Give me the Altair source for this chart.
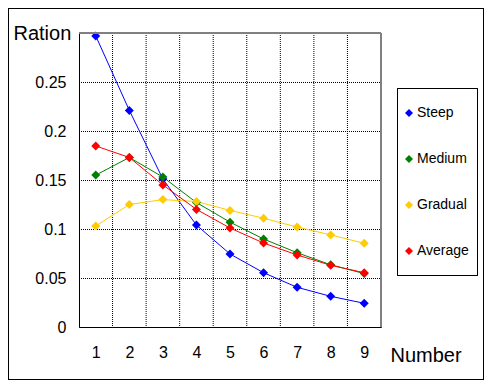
import altair as alt
import pandas as pd

numbers = [1, 2, 3, 4, 5, 6, 7, 8, 9]
series_names = ["Steep", "Medium", "Gradual", "Average"]
series_colors = ["#0000FF", "#008000", "#FFCC00", "#FF0000"]
steep = [0.297, 0.221, 0.151, 0.104, 0.0745, 0.0554, 0.0405, 0.0313, 0.0242]
medium = [0.155, 0.173, 0.153, 0.127, 0.107, 0.0898, 0.0758, 0.0635, 0.0545]
gradual = [0.103, 0.125, 0.130, 0.128, 0.119, 0.111, 0.102, 0.094, 0.0854]
average = [0.1847, 0.173, 0.145, 0.120, 0.101, 0.0857, 0.0735, 0.063, 0.0554]
y_ticks = [0, 0.05, 0.1, 0.15, 0.2, 0.25, 0.3]

rows = []
for name, vals in zip(series_names, [steep, medium, gradual, average]):
    for n, v in zip(numbers, vals):
        rows.append({"Number": n, "Ration": v, "Series": name})
df = pd.DataFrame(rows)

grid_df = pd.DataFrame({"g": [n + 0.5 for n in numbers[:-1]]})

W, H = 302, 294
PL, PT = 71, 25
TOTAL_W, TOTAL_H = 476, 372

xscale = alt.Scale(domain=[0.5, 9.5], nice=False, zero=False)
yscale = alt.Scale(domain=[0, 0.3], nice=False)
color_scale = alt.Scale(domain=series_names, range=series_colors)

FONT = "Liberation Sans"

x_axis = alt.Axis(
    values=numbers, grid=False, ticks=False, domainColor="black",
    labelFontSize=16, labelPadding=17, labelColor="black", labelFont=FONT,
    labelOverlap=False, labelFlush=False,
    title="Number", titleFontSize=20, titleFontWeight="normal",
    titleColor="black", titleFont=FONT, titleAlign="left",
    titleBaseline="alphabetic", titleX=311, titleY=34, titleAnchor="start",
)
y_axis = alt.Axis(
    values=y_ticks, grid=True, gridColor="black", gridDash=[1, 1],
    gridDashOffset=0.5,
    gridWidth=1, gridOpacity=1, ticks=False, domainColor="black",
    labelFontSize=16, labelPadding=13, labelColor="black", labelFont=FONT,
    labelOverlap=False, labelFlush=False,
    labelExpr="datum.value >= 0.3 ? '' : datum.label", format="~g",
    title="Ration", titleFontSize=20, titleFontWeight="normal",
    titleColor="black", titleFont=FONT, titleAngle=0, titleAlign="left",
    titleBaseline="alphabetic", titleX=-66, titleY=6, zindex=0,
)

vgrid = alt.Chart(grid_df).mark_rule(
    color="black", strokeDash=[1, 1], strokeWidth=1
).encode(x=alt.X("g:Q", scale=xscale, axis=x_axis))

lines = alt.Chart(df).mark_line(strokeWidth=1).encode(
    x=alt.X("Number:Q", scale=xscale, axis=x_axis),
    y=alt.Y("Ration:Q", scale=yscale, axis=y_axis),
    color=alt.Color("Series:N", scale=color_scale, legend=None),
    detail="Series:N",
)

points = alt.Chart(df).mark_point(
    shape="diamond", filled=True, size=81, opacity=1
).encode(
    x=alt.X("Number:Q", scale=xscale, axis=x_axis),
    y=alt.Y("Ration:Q", scale=yscale, axis=y_axis),
    color=alt.Color(
        "Series:N", scale=color_scale,
        legend=alt.Legend(
            title=None, orient="none", legendX=323, legendY=73,
            symbolType="diamond", symbolSize=64, symbolStrokeWidth=0,
            labelFontSize=14, labelFont=FONT, labelColor="black",
            labelOffset=1, rowPadding=32, padding=0,
        ),
    ),
)

top_border = alt.Chart(grid_df).mark_rule(color="#808080", strokeWidth=1).encode(
    x=alt.value(0), x2=alt.value(W), y=alt.value(0)
)
right_border = alt.Chart(grid_df).mark_rule(color="#808080", strokeWidth=1).encode(
    x=alt.value(W), y=alt.value(0), y2=alt.value(H)
)

legend_box = alt.Chart(grid_df).mark_rect(
    fill="white", stroke="black", strokeWidth=1
).encode(
    x=alt.value(318.5), x2=alt.value(398.5), y=alt.value(55.5), y2=alt.value(242.5)
)

outer_box = alt.Chart(grid_df).mark_rect(
    fill=None, stroke="black", strokeWidth=1
).encode(
    x=alt.value(-PL + 0.5), x2=alt.value(TOTAL_W - PL - 0.5),
    y=alt.value(-PT + 0.5), y2=alt.value(TOTAL_H - PT - 0.5)
)

chart = alt.layer(
    outer_box, legend_box, vgrid, lines, points, top_border, right_border
).resolve_legend(
    color="independent"
).properties(
    width=W, height=H,
    autosize=alt.AutoSizeParams(type="none"),
    padding={"left": PL, "top": PT, "right": TOTAL_W - PL - W, "bottom": TOTAL_H - PT - H},
).configure_view(
    stroke=None
).configure_axisX(
    labelOverlap=False
).configure(background="white")

chart.save("out.html", embed_options={"renderer": "svg", "actions": False})
